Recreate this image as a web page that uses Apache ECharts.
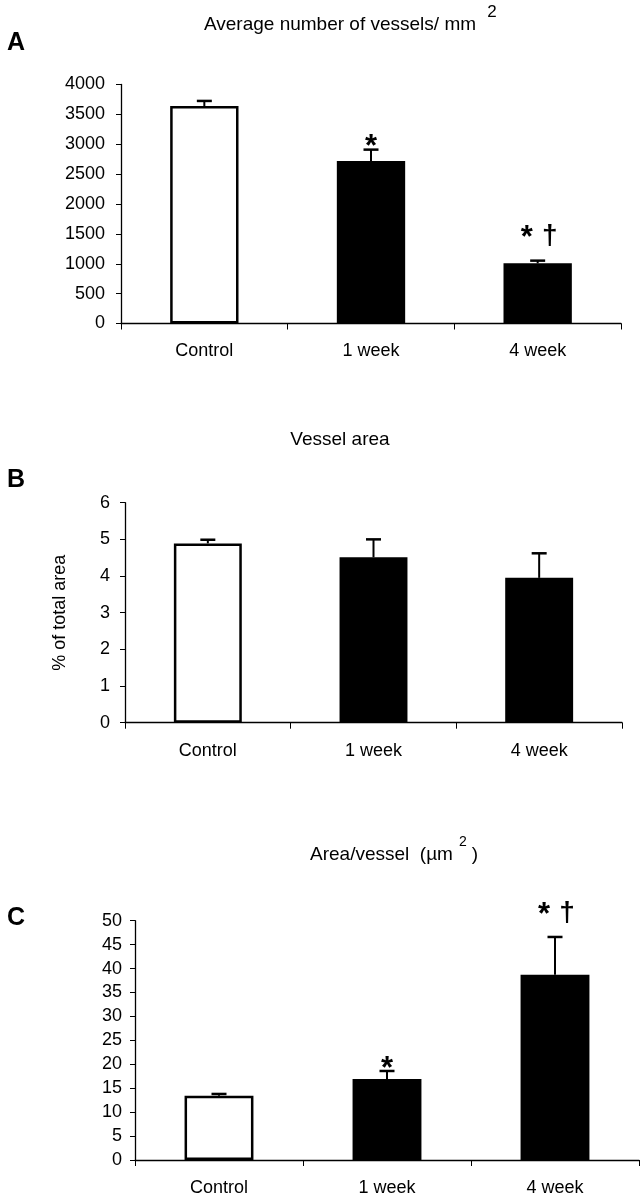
<!DOCTYPE html>
<html>
<head>
<meta charset="utf-8">
<script src="https://cdn.jsdelivr.net/npm/echarts@6/dist/echarts.min.js"></script>
<style>html,body{margin:0;padding:0;background:#fff;}#c{width:640px;height:1199px;}</style>
</head>
<body>
<div id="c"></div>
<script>
// ---- data ----
const categories = ['Control', '1 week', '4 week'];
const vesselsMean = [3640, 2720, 1007];
const vesselsErr = [85, 190, 45];
const vesselsMarks = ['', '*', '* †'];
const areaMean = [4.89, 4.51, 3.95];
const areaErr = [0.10, 0.49, 0.67];
const areaMarks = ['', '', ''];
const perVesselMean = [13.4, 16.9, 38.7];
const perVesselErr = [0.4, 1.7, 7.9];
const perVesselMarks = ['', '*', '* †'];
const yTicksA = { min: 0, max: 4000, interval: 500 };
const yTicksB = { min: 0, max: 6, interval: 1 };
const yTicksC = { min: 0, max: 50, interval: 5 };
const titleA = 'Average number of vessels/ mm';
const titleB = 'Vessel area';
const titleC = 'Area/vessel  (\u00b5m';
const yNameB = '% of total area';

const FONT = "'Liberation Sans', Arial, Helvetica, sans-serif";
const chart = echarts.init(document.getElementById('c'), null, { renderer: 'canvas' });

function makeErrRender(marks) {
  return function (params, api) {
    const i = api.value(0), v = api.value(1), e = api.value(2);
    const base = api.coord([i, v]);
    const top = api.coord([i, v + e]);
    const children = [
      { type: 'line', shape: { x1: base[0], y1: base[1], x2: top[0], y2: top[1] }, style: { stroke: '#000', lineWidth: 2 } },
      { type: 'line', shape: { x1: top[0] - 7.5, y1: top[1], x2: top[0] + 7.5, y2: top[1] }, style: { stroke: '#000', lineWidth: 2.5 } }
    ];
    const m = marks[params.dataIndex];
    if (m === '*') {
      children.push({ type: 'text', x: top[0], y: top[1] - 2, style: { text: '*', font: 'bold 31px ' + FONT, fill: '#000', textAlign: 'center', textVerticalAlign: 'middle' } });
    } else if (m === '* †') {
      children.push({ type: 'text', x: top[0] - 11, y: top[1] - 22, style: { text: '*', font: 'bold 31px ' + FONT, fill: '#000', textAlign: 'center', textVerticalAlign: 'middle' } });
      children.push({ type: 'text', x: top[0] + 12, y: top[1] - 24, style: { text: '\u2020', font: 'bold 28px ' + FONT, fill: '#000', textAlign: 'center', textVerticalAlign: 'middle' } });
    }
    return { type: 'group', children: children };
  };
}

const grids = [
  { left: 121, top: 84.5, width: 500, height: 239 },
  { left: 125, top: 502.7, width: 497, height: 220 },
  { left: 135, top: 920.7, width: 504, height: 239.3 }
];
const yTicks = [yTicksA, yTicksB, yTicksC];
const means = [vesselsMean, areaMean, perVesselMean];
const errs = [vesselsErr, areaErr, perVesselErr];
const marks = [vesselsMarks, areaMarks, perVesselMarks];
const labelGap = [16, 15, 13];

const xAxes = [], yAxes = [], series = [];
for (let g = 0; g < 3; g++) {
  xAxes.push({
    type: 'category', gridIndex: g, data: categories, boundaryGap: true,
    axisLine: { lineStyle: { color: '#000', width: 1.3 } },
    axisTick: { show: true, length: 6, lineStyle: { color: '#000', width: 1 } },
    axisLabel: { color: '#000', fontFamily: FONT, fontSize: 18, margin: 19 },
    splitLine: { show: false }
  });
  const ya = {
    type: 'value', gridIndex: g, min: yTicks[g].min, max: yTicks[g].max, interval: yTicks[g].interval,
    axisLine: { show: true, lineStyle: { color: '#000', width: 1.3 } },
    axisTick: { show: true, length: 5, lineStyle: { color: '#000', width: 1 } },
    axisLabel: { color: '#000', fontFamily: FONT, fontSize: 18, margin: labelGap[g], formatter: v => String(v) },
    splitLine: { show: false }
  };
  if (g === 1) {
    ya.name = yNameB;
    ya.nameLocation = 'middle';
    ya.nameGap = 56;
    ya.nameTextStyle = { color: '#000', fontFamily: FONT, fontSize: 18 };
  }
  yAxes.push(ya);
  series.push({
    type: 'bar', xAxisIndex: g, yAxisIndex: g, barWidth: '41%',
    data: means[g].map((v, i) => ({
      value: v,
      itemStyle: { color: i === 0 ? '#fff' : '#000', borderColor: '#000', borderWidth: 2.5 }
    })),
    silent: true, animation: false
  });
  series.push({
    type: 'custom', xAxisIndex: g, yAxisIndex: g,
    data: means[g].map((v, i) => [i, v, errs[g][i]]),
    renderItem: makeErrRender(marks[g]), z: 5, silent: true, animation: false
  });
}

function txt(text, x, y, font, align) {
  return { type: 'text', x: x, y: y, silent: true,
    style: { text: text, font: font, fill: '#000', textAlign: align || 'center', textVerticalAlign: 'middle' } };
}

chart.setOption({
  animation: false,
  backgroundColor: '#fff',
  grid: grids,
  xAxis: xAxes,
  yAxis: yAxes,
  series: series,
  graphic: [
    txt('A', 16, 43, 'bold 25px ' + FONT),
    txt('B', 16, 480, 'bold 25px ' + FONT),
    txt('C', 16, 918, 'bold 25px ' + FONT),
    txt(titleA, 340, 25, '19px ' + FONT),
    txt('2', 492, 12, '17px ' + FONT),
    txt(titleB, 340, 440, '19px ' + FONT),
    txt(titleC, 310, 855, '19px ' + FONT, 'left'),
    txt('2', 463, 842, '14px ' + FONT),
    txt(')', 475, 855, '19px ' + FONT)
  ]
});
</script>
</body>
</html>
